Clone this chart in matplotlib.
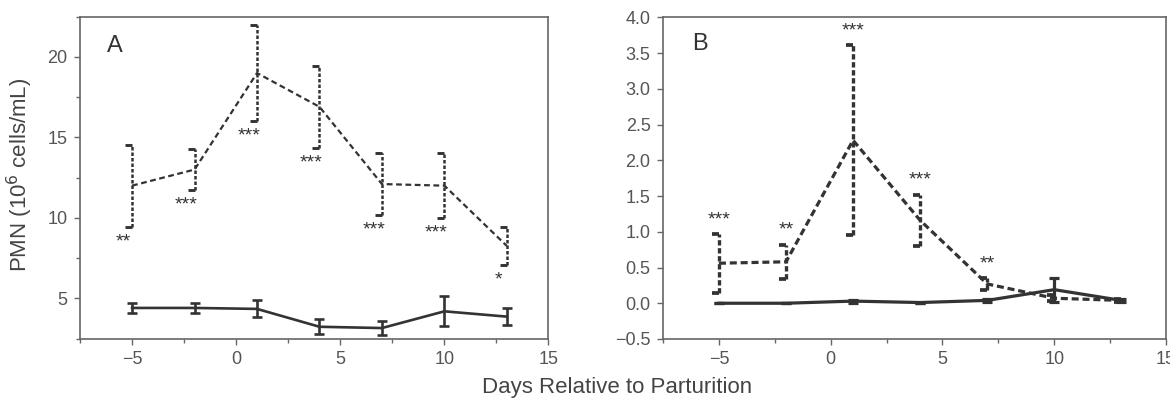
import matplotlib
matplotlib.use("Agg")
import matplotlib.pyplot as plt
from matplotlib.ticker import MultipleLocator
import numpy as np

plt.rcParams['font.family'] = ['Liberation Sans', 'DejaVu Sans']

days = [-5, -2, 1, 4, 7, 10, 13]

# Panel A
a_dash_mean = [12.0, 13.0, 19.0, 16.9, 12.1, 12.0, 8.25]
a_dash_err = [2.55, 1.25, 3.0, 2.55, 1.9, 2.0, 1.2]
a_solid_mean = [4.4, 4.4, 4.34, 3.23, 3.15, 4.19, 3.86]
a_solid_err = [0.33, 0.33, 0.53, 0.47, 0.43, 0.94, 0.52]
a_sig = ['**', '***', '***', '***', '***', '***', '*']

# Panel B
b_dash_mean = [0.56, 0.58, 2.28, 1.16, 0.27, 0.07, 0.04]
b_dash_err = [0.41, 0.24, 1.33, 0.36, 0.08, 0.04, 0.02]
b_solid_mean = [0.0, 0.0, 0.03, 0.01, 0.04, 0.19, 0.04]
b_solid_err = [0.0, 0.0, 0.02, 0.0, 0.02, 0.17, 0.02]
b_sig = ['***', '**', '***', '***', '**', '', '']

x_ticks = [-5, 0, 5, 10, 15]
a_yticks = [5, 10, 15, 20]
b_yticks = [-0.5, 0.0, 0.5, 1.0, 1.5, 2.0, 2.5, 3.0, 3.5, 4.0]

LC = '#333333'
SC = '#666666'
TC = '#555555'

fig = plt.figure(figsize=(11.7, 3.99), dpi=100)
axA = fig.add_axes([0.0684, 0.1516, 0.4004, 0.8065])
axB = fig.add_axes([0.5667, 0.1504, 0.4299, 0.8062])


def style(ax):
    for s in ax.spines.values():
        s.set_color(SC)
        s.set_linewidth(1.2)
    ax.tick_params(which='both', direction='out', color=SC, labelcolor=TC,
                   labelsize=13, pad=5, top=False, right=False)
    ax.tick_params(which='major', length=4, width=1.0)
    ax.tick_params(which='minor', length=3, width=1.0)
    ax.set_xlim(-7.5, 15)
    ax.set_xticks(x_ticks)
    ax.set_xticklabels([str(t).replace('-', '\u2212') for t in x_ticks])
    ax.xaxis.set_minor_locator(MultipleLocator(2.5))


def dashed_series(ax, y, e, lw, dash, edash, elw, capsize):
    y = np.array(y); e = np.array(e); x = np.array(days)
    ax.plot(x, y, color=LC, lw=lw, dashes=dash, zorder=3)
    eb = ax.errorbar(x, y, yerr=e, fmt='none', ecolor=LC, elinewidth=elw,
                     capsize=0, zorder=3)
    eb[2][0].set_linestyle((0, edash))
    ax.plot(x, y + e, ls='none', marker=0, ms=capsize, mew=elw + 0.3,
            color=LC, zorder=3)
    ax.plot(x, y - e, ls='none', marker=0, ms=capsize, mew=elw + 0.3,
            color=LC, zorder=3)


def solid_series(ax, y, e, lw):
    ax.errorbar(days, y, yerr=e, color=LC, lw=lw, elinewidth=lw,
                capsize=3.5, capthick=lw, zorder=4)


# ---- Panel A
style(axA)
axA.set_ylim(2.5, 22.5)
axA.set_yticks(a_yticks)
axA.yaxis.set_minor_locator(MultipleLocator(2.5))
dashed_series(axA, a_dash_mean, a_dash_err, 1.6, (2.6, 1.6), (1.4, 0.8), 1.8, 5)
solid_series(axA, a_solid_mean, a_solid_err, 1.9)
for xi, m, e, s in zip(days, a_dash_mean, a_dash_err, a_sig):
    axA.annotate(s, xy=(xi, m - e), xytext=(-6, -14), textcoords='offset points',
                 ha='center', va='baseline', fontsize=14, color=LC)
axA.text(0.057, 0.89, 'A', transform=axA.transAxes, fontsize=17,
         color='#333333', va='baseline', ha='left')
axA.set_ylabel('PMN (10$^6$ cells/mL)', fontsize=16, color='#444444')
axA.yaxis.set_label_coords(-0.097, 0.51)

# ---- Panel B
style(axB)
axB.set_ylim(-0.5, 4.0)
axB.set_yticks(b_yticks)
axB.set_yticklabels(['%.1f' % t if t >= 0 else '\u2212%.1f' % -t for t in b_yticks])
dashed_series(axB, b_dash_mean, b_dash_err, 2.3, (2.2, 1.2), (1.6, 0.8), 2.4, 5)
solid_series(axB, b_solid_mean, b_solid_err, 2.3)
for xi, m, e, s in zip(days, b_dash_mean, b_dash_err, b_sig):
    if s:
        axB.annotate(s, xy=(xi, m + e), xytext=(0, 7), textcoords='offset points',
                     ha='center', va='baseline', fontsize=14, color=LC)
axB.text(0.058, 0.898, 'B', transform=axB.transAxes, fontsize=17,
         color='#333333', va='baseline', ha='left')

fig.text(0.527, 0.03, 'Days Relative to Parturition', ha='center', va='center',
         fontsize=16, color='#444444')

fig.savefig('out.png', dpi=100)
